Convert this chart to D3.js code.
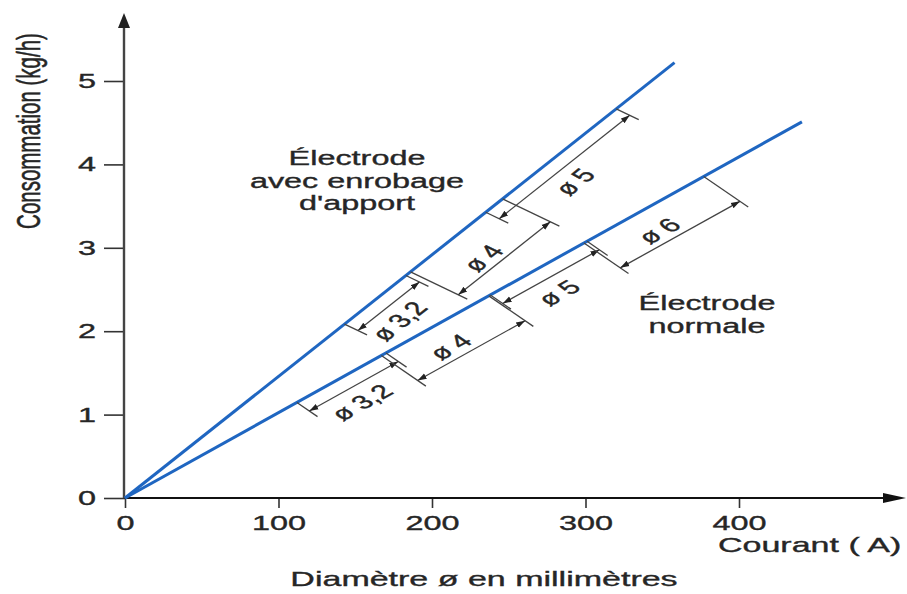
<!DOCTYPE html>
<html>
<head>
<meta charset="utf-8">
<script src="https://cdn.jsdelivr.net/npm/d3@7"></script>
<style>
  html, body { margin: 0; padding: 0; background: #fff; }
  svg { display: block; font-family: 'Liberation Sans', Arial, sans-serif; }
  text { stroke: #262626; stroke-width: 0.35px; }
</style>
</head>
<body>
<script>
// courbes : courant (A) -> consommation (kg/h)
const enrobageCourant = [0, 358],
      enrobageConso = [0, 5.22],
      normaleCourant = [0, 441],
      normaleConso = [0, 4.51];

// plages de courant par diamètre d'électrode
const enrobageDiam = ['ø 3,2', 'ø 4', 'ø 5'],
      enrobageDe = [143, 186, 235],
      enrobageA = [183, 246, 320];

const normaleDiam = ['ø 3,2', 'ø 4', 'ø 5', 'ø 6'],
      normaleDe = [112, 167, 238, 299],
      normaleA = [170, 237, 301, 377];

const xTicks = [0, 100, 200, 300, 400],
      yTicks = [0, 1, 2, 3, 4, 5];

const width = 907,
      height = 594,
      stretch = 1.62,      // le dessin d'origine est étiré horizontalement
      blue = '#1f66c1',
      ink = '#262626';

const x = d3.scaleLinear().domain([0, 400]).range([125, 739]),
      y = d3.scaleLinear().domain([0, 5]).range([498, 81]);

const svg = d3.select('body')
              .append('svg')
              .attr('width', width)
              .attr('height', height);

svg.append('rect').attr('width', width).attr('height', height).attr('fill', '#fff');

svg.append('defs')
   .append('marker')
   .attr('id', 'fleche')
   .attr('viewBox', '0 -4 9 8')
   .attr('refX', 9)
   .attr('refY', 0)
   .attr('markerUnits', 'userSpaceOnUse')
   .attr('markerWidth', 9)
   .attr('markerHeight', 8)
   .attr('orient', 'auto-start-reverse')
   .append('path')
   .attr('d', 'M0,-3L9,0L0,3Z')
   .attr('fill', '#222');

// axes
const xAxis = svg.append('g')
                 .attr('transform', `translate(0,${y(0)})`)
                 .call(d3.axisBottom(x).tickValues(xTicks).tickFormat(d3.format('d')).tickSize(10).tickPadding(8));
xAxis.select('.domain').remove();
xAxis.selectAll('line').attr('stroke', '#333').attr('stroke-width', 1.6);
xAxis.selectAll('text')
     .attr('font-size', 20)
     .attr('fill', ink)
     .attr('font-family', 'Liberation Sans, Arial, sans-serif')
     .attr('transform', `scale(${stretch},1)`)
     .attr('y', 18 );

const yAxis = svg.append('g')
                 .attr('transform', `translate(${x(0)},0)`)
                 .call(d3.axisLeft(y).tickValues(yTicks).tickFormat(d3.format('d')).tickSize(21).tickPadding(8));
yAxis.select('.domain').remove();
yAxis.selectAll('line').attr('stroke', '#333').attr('stroke-width', 1.6);
yAxis.selectAll('text')
     .attr('font-size', 20)
     .attr('fill', ink)
     .attr('font-family', 'Liberation Sans, Arial, sans-serif')
     .attr('x', -29 / stretch)
     .attr('transform', `scale(${stretch},1)`);

svg.append('line')
   .attr('x1', x(0)).attr('y1', y(0))
   .attr('x2', width - 20).attr('y2', y(0))
   .attr('stroke', '#111').attr('stroke-width', 2);
svg.append('path')
   .attr('d', `M${width - 1},${y(0)}L${width - 24},${y(0) - 5}L${width - 24},${y(0) + 5}Z`)
   .attr('fill', '#111');

svg.append('line')
   .attr('x1', x(0) - 1).attr('y1', y(0))
   .attr('x2', x(0) - 1).attr('y2', 24)
   .attr('stroke', '#444').attr('stroke-width', 2.4);
svg.append('path')
   .attr('d', `M${x(0) - 1},13L${x(0) - 7},28L${x(0) + 5},28Z`)
   .attr('fill', '#222');

// titres
svg.append('text')
   .attr('transform', `translate(29,131) scale(${stretch},1) rotate(-90)`)
   .attr('text-anchor', 'middle')
   .attr('dominant-baseline', 'central')
   .attr('font-size', 20.5)
   .attr('fill', ink)
   .text('Consommation (kg/h)');

svg.append('text')
   .attr('transform', `translate(718,552) scale(${stretch},1)`)
   .attr('font-size', 21)
   .attr('fill', ink)
   .text('Courant ( A)');

svg.append('text')
   .attr('transform', `translate(484,586) scale(${stretch},1)`)
   .attr('text-anchor', 'middle')
   .attr('font-size', 21)
   .attr('fill', ink)
   .text('Diamètre ø en millimètres');

function bloc(lignes, cx, y0, pas) {
  lignes.forEach(function(t, i) {
    svg.append('text')
       .attr('transform', `translate(${cx},${y0 + i * pas}) scale(${stretch},1)`)
       .attr('text-anchor', 'middle')
       .attr('font-size', 20)
       .attr('fill', ink)
       .text(t);
  });
}
bloc(['Électrode', 'avec enrobage', "d'apport"], 357, 165, 22.5);
bloc(['Électrode', 'normale'], 707, 310, 22.5);

// courbes
const ligne = d3.line().x(d => x(d[0])).y(d => y(d[1]));

function courbe(courant, conso) {
  svg.append('path')
     .datum(d3.zip(courant, conso))
     .attr('d', ligne)
     .attr('fill', 'none')
     .attr('stroke', blue)
     .attr('stroke-width', 3);
}
courbe(enrobageCourant, enrobageConso);
courbe(normaleCourant, normaleConso);

// cotes des plages de diamètre
function cotes(courant, conso, diam, de, a, loin) {
  const f = d3.scaleLinear().domain(courant).range(conso);
  const m = (y(0) - y(conso[1])) / (x(courant[1]) - x(0));
  const ld = Math.hypot(1, m),
        dir = [1 / ld, -m / ld];
  const lu = Math.hypot(stretch * m, 1 / stretch),
        u = [stretch * m / lu, (1 / stretch) / lu];
  const angle = Math.atan(m * stretch) * 180 / Math.PI;
  const g = svg.append('g');

  diam.forEach(function(label, i) {
    const off = i % 2 ? loin : 15;
    const p0 = [x(de[i]), y(f(de[i]))],
          p1 = [x(a[i]), y(f(a[i]))];
    const q0 = [p0[0] + u[0] * off, p0[1] + u[1] * off],
          q1 = [p1[0] + u[0] * off, p1[1] + u[1] * off];

    [p0, p1].forEach(function(p) {
      g.append('line')
       .attr('x1', p[0]).attr('y1', p[1])
       .attr('x2', p[0] + u[0] * (off + 10)).attr('y2', p[1] + u[1] * (off + 10))
       .attr('stroke', '#444').attr('stroke-width', 1.3);
    });

    g.append('line')
     .attr('x1', q0[0]).attr('y1', q0[1])
     .attr('x2', q1[0]).attr('y2', q1[1])
     .attr('stroke', '#444').attr('stroke-width', 1.3)
     .attr('marker-start', 'url(#fleche)')
     .attr('marker-end', 'url(#fleche)');

    const s = i % 2 ? -15 : 20;
    const lx = (q0[0] + q1[0]) / 2 + u[0] * s - dir[0] * 10,
          ly = (q0[1] + q1[1]) / 2 + u[1] * s - dir[1] * 10;
    g.append('text')
     .attr('transform', `translate(${lx},${ly}) scale(${stretch},1) rotate(${-angle})`)
     .attr('text-anchor', 'middle')
     .attr('dominant-baseline', 'central')
     .attr('font-size', 19)
     .attr('fill', ink)
     .text(label);
  });
}
cotes(enrobageCourant, enrobageConso, enrobageDiam, enrobageDe, enrobageA, 53);
cotes(normaleCourant, normaleConso, normaleDiam, normaleDe, normaleA, 44);
</script>
</body>
</html>
